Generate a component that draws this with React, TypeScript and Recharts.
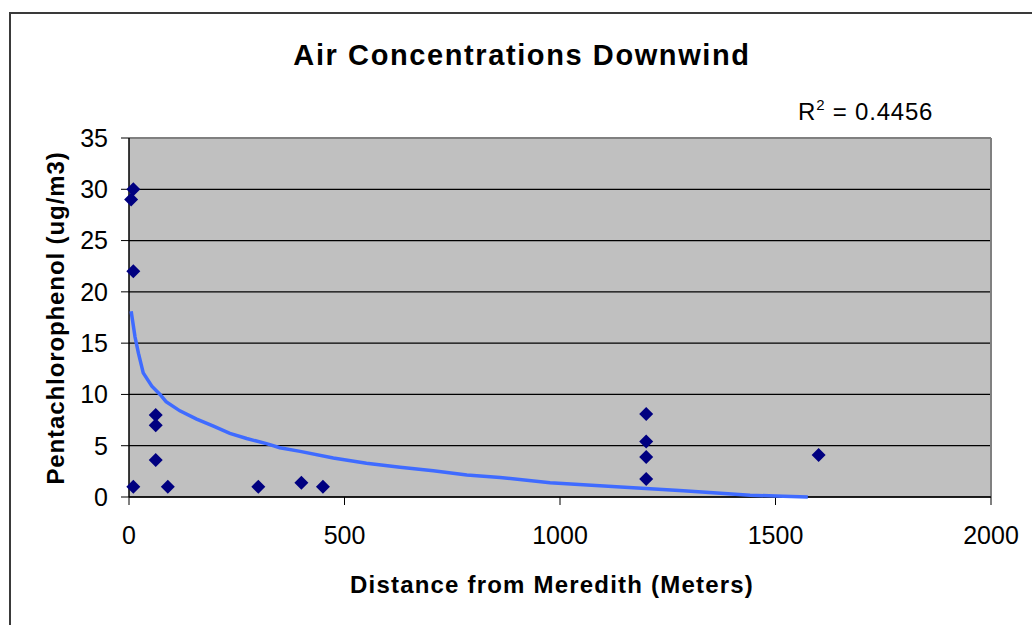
import { ScatterChart, Scatter, XAxis, YAxis, CartesianGrid, ReferenceLine } from 'recharts';

// measured points (distance in m, concentration in ug/m3)
const distances = [10, 5, 10, 10, 62, 62, 62, 90, 300, 400, 450, 1200, 1200, 1200, 1200, 1600];
const concentrations = [30, 29, 22, 1, 8, 7, 3.6, 1, 1, 1.4, 1, 8.1, 5.4, 3.9, 1.75, 4.1];

// log trendline
const trendDistances = [5, 14, 22, 33, 53, 72, 86, 118, 157, 196, 234, 273, 319, 350, 397, 474, 551, 629, 706, 784, 861, 977, 1054, 1131, 1209, 1286, 1364, 1441, 1518, 1575];
const trendValues = [18.1, 15.6, 14.0, 12.1, 10.8, 10.0, 9.3, 8.4, 7.6, 6.9, 6.2, 5.7, 5.2, 4.8, 4.45, 3.8, 3.3, 2.9, 2.55, 2.15, 1.9, 1.4, 1.2, 1.0, 0.8, 0.6, 0.38, 0.18, 0.07, 0];

const xTicks = [0, 500, 1000, 1500, 2000];
const yTicks = [0, 5, 10, 15, 20, 25, 30, 35];

const title = 'Air Concentrations Downwind';
const xTitle = 'Distance from Meredith (Meters)';
const yTitle = 'Pentachlorophenol (ug/m3)';
const rSquared = '0.4456';

const FONT = '"Liberation Sans", Arial, sans-serif';

const points = distances.map((x, i) => ({ x, y: concentrations[i] }));
const trend = trendDistances.map((x, i) => ({ x, y: trendValues[i] }));

const Diamond = (props: any) => {
  const { cx, cy } = props;
  if (cx == null || cy == null) return <g />;
  const r = 7;
  return <path d={`M${cx},${cy - r}L${cx + r},${cy}L${cx},${cy + r}L${cx - r},${cy}Z`} fill="#000080" />;
};

export default function App() {
  return (
    <div style={{ position: 'fixed', left: 0, top: 0, width: 1032, height: 625, overflow: 'hidden', background: '#fff' }}>
      <div style={{ position: 'absolute', left: 9, top: 12, width: 1200, height: 800, border: '2px solid #3a3a3a' }} />
      <div style={{ position: 'absolute', left: 0, top: 0 }}>
        <ScatterChart width={1032} height={625} margin={{ top: 138, right: 41, bottom: 68, left: 29 }}>
          <CartesianGrid vertical={false} fill="#C0C0C0" fillOpacity={1} stroke="#000" strokeWidth={1.2} />
          <XAxis
            type="number" dataKey="x" domain={[0, 2000]} ticks={xTicks} height={60}
            tick={{ fontSize: 25, fill: '#000', fontFamily: FONT }}
            tickSize={8} tickMargin={21}
            axisLine={{ stroke: '#000', strokeWidth: 1.5 }} tickLine={{ stroke: '#000' }}
          />
          <YAxis
            type="number" dataKey="y" domain={[0, 35]} ticks={yTicks} width={100}
            tick={{ fontSize: 25, fill: '#000', fontFamily: FONT }}
            tickSize={8} tickMargin={13}
            axisLine={{ stroke: '#000', strokeWidth: 1.5 }} tickLine={{ stroke: '#000' }}
          />
          <ReferenceLine y={35} stroke="#808080" strokeWidth={2} />
          <ReferenceLine x={2000} stroke="#808080" strokeWidth={2} />
          <Scatter
            data={trend} isAnimationActive={false} shape={() => <g />}
            line={{ stroke: '#3F6BFF', strokeWidth: 3.5 }} lineType="joint" legendType="none"
          />
          <Scatter data={points} isAnimationActive={false} shape={Diamond} legendType="none" />
        </ScatterChart>
      </div>
      <svg width={1032} height={625} style={{ position: 'absolute', left: 0, top: 0, pointerEvents: 'none' }}>
        <text x={522} y={65} textAnchor="middle" fontFamily={FONT} fontSize={29} fontWeight="bold" letterSpacing={1.6} fill="#000">
          {title}
        </text>
        <text x={798} y={120} fontFamily={FONT} fontSize={24} fill="#000" letterSpacing={0.8}>
          R<tspan fontSize={15} dy={-10}>2</tspan><tspan dy={10}>{` = ${rSquared}`}</tspan>
        </text>
        <text x={552} y={593} textAnchor="middle" fontFamily={FONT} fontSize={24} fontWeight="bold" letterSpacing={1.2} fill="#000">
          {xTitle}
        </text>
        <text x={64} y={318} textAnchor="middle" transform="rotate(-90, 64, 318)" fontFamily={FONT} fontSize={24} fontWeight="bold" letterSpacing={0.9} fill="#000">
          {yTitle}
        </text>
      </svg>
    </div>
  );
}
